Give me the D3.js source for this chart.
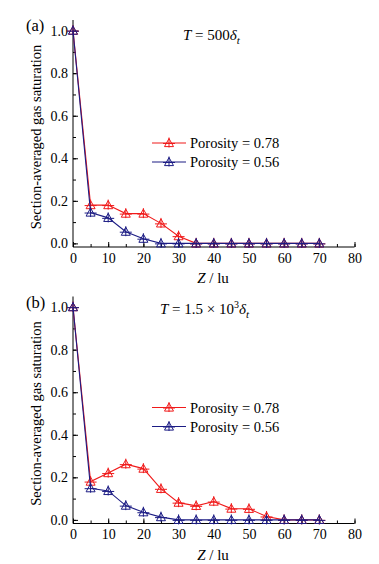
<!DOCTYPE html>
<html>
<head>
<meta charset="utf-8">
<script src="https://cdn.jsdelivr.net/npm/d3@7"></script>
<style>
  body { margin: 0; background: #fff; }
  text { font-family: "Liberation Serif", "DejaVu Serif", serif; fill: #000; }
</style>
</head>
<body>
<script>
const zValues = [0, 5, 10, 15, 20, 25, 30, 35, 40, 45, 50, 55, 60, 65, 70];

// panel (a), T = 500 dt
const satA78 = [1.0, 0.18, 0.18, 0.14, 0.14, 0.094, 0.034, 0.0, 0, 0, 0, 0, 0, 0, 0];
const satA56 = [1.0, 0.145, 0.12, 0.055, 0.022, 0.0, 0, 0, 0, 0, 0, 0, 0, 0, 0];

// panel (b), T = 1.5e3 dt
const satB78 = [1.0, 0.18, 0.22, 0.262, 0.241, 0.146, 0.081, 0.066, 0.086, 0.053, 0.052, 0.016, 0, 0, 0];
const satB56 = [1.0, 0.149, 0.136, 0.067, 0.036, 0.013, 0, 0, 0, 0, 0, 0, 0, 0, 0];

const seriesNames = ["Porosity = 0.78", "Porosity = 0.56"];
const seriesColors = ["#f01a1a", "#1c1c84"];
const xTicks = [0, 10, 20, 30, 40, 50, 60, 70, 80];
const yTicks = [0, 0.2, 0.4, 0.6, 0.8, 1.0];

const w = 379;
const h = 564;

const svg = d3.select("body").append("svg").attr("width", w).attr("height", h);

const x = d3.scaleLinear().domain([0, 80]).range([73, 354.5]);

function marker(g, cx, cy, color) {
  const s = 4.5;
  g.append("path")
    .attr("d", `M${cx},${cy - s}L${cx + s},${cy + s * 0.8}L${cx - s},${cy + s * 0.8}Z`)
    .attr("fill", "none")
    .attr("stroke", color)
    .attr("stroke-width", 1);
  g.append("path")
    .attr("d", `M${cx},${cy - s - 1}V${cy + s}M${cx - 6},${cy + 0.5}H${cx + 6}`)
    .attr("stroke", color)
    .attr("stroke-width", 1);
}

function drawPanel(offset, series, tag, legendY, titleFn) {
  const g = svg.append("g").attr("transform", `translate(0,${offset})`);
  const y = d3.scaleLinear().domain([-0.017, 1.05]).range([247, 20]);

  // axes, ticks pointing inward
  g.append("g")
    .attr("transform", `translate(0,${y(-0.017)})`)
    .call(d3.axisBottom(x).tickValues(d3.range(0, 81, 5)).tickSize(-3).tickFormat(""))
    .call((a) => a.select(".domain").remove());
  g.append("g")
    .attr("transform", `translate(0,${y(-0.017)})`)
    .call(d3.axisBottom(x).tickValues(xTicks).tickSize(-5).tickPadding(6).tickFormat(d3.format("d")))
    .call((a) => a.select(".domain").attr("d", `M${x(0)},0H${x(80)}`))
    .call((a) => a.selectAll("text").attr("font-size", 14).attr("font-family", "Liberation Serif"));

  g.append("g")
    .attr("transform", `translate(${x(0)},0)`)
    .call(d3.axisLeft(y).tickValues(d3.range(0, 1.01, 0.1)).tickSize(-3).tickFormat(""))
    .call((a) => a.select(".domain").remove());
  g.append("g")
    .attr("transform", `translate(${x(0)},0)`)
    .call(d3.axisLeft(y).tickValues(yTicks).tickSize(-5).tickPadding(5).tickFormat(d3.format(".1f")))
    .call((a) => a.select(".domain").attr("d", `M0,${y(-0.017)}V${y(1.05)}`))
    .call((a) => a.selectAll("text").attr("font-size", 14).attr("font-family", "Liberation Serif"));

  g.selectAll(".tick line").attr("stroke", "#000");
  g.selectAll(".domain").attr("stroke", "#000");

  // lines and markers
  const line = d3.line().x((d, i) => x(zValues[i])).y((d) => y(d));
  series.forEach((vals, k) => {
    const sg = g.append("g");
    sg.append("path")
      .datum(vals)
      .attr("d", line)
      .attr("fill", "none")
      .attr("stroke", seriesColors[k])
      .attr("stroke-width", 1.1);
    vals.forEach((v, i) => marker(sg, x(zValues[i]), y(v), seriesColors[k]));
  });

  // legend
  seriesNames.forEach((name, k) => {
    const ly = legendY + k * 19;
    g.append("line")
      .attr("x1", 152).attr("x2", 186).attr("y1", ly).attr("y2", ly)
      .attr("stroke", seriesColors[k]).attr("stroke-width", 1.1);
    marker(g, 169, ly, seriesColors[k]);
    g.append("text").attr("x", 190).attr("y", ly + 5).attr("font-size", 14.5).text(name);
  });

  // labels
  g.append("text").attr("x", 26).attr("y", 31).attr("font-size", 16.5).text(tag);
  titleFn(g.append("text").attr("font-size", 15));

  g.append("text")
    .attr("transform", `translate(41,${y(0.5)}) rotate(-90)`)
    .attr("text-anchor", "middle")
    .attr("font-size", 14.5)
    .text("Section-averaged gas saturation");

  const xl = g.append("text").attr("x", 213).attr("y", 283).attr("text-anchor", "middle").attr("font-size", 15);
  xl.append("tspan").attr("font-style", "italic").text("Z");
  xl.append("tspan").text(" / lu");
}

drawPanel(0, [satA78, satA56], "(a)", 143, (t) => {
  t.attr("x", 183).attr("y", 40);
  t.append("tspan").attr("font-style", "italic").text("T");
  t.append("tspan").text(" = 500");
  t.append("tspan").attr("font-style", "italic").text("δ");
  t.append("tspan").attr("font-style", "italic").attr("font-size", 11).attr("dy", 4).text("t");
});

drawPanel(276.5, [satB78, satB56], "(b)", 131, (t) => {
  t.attr("x", 160).attr("y", 37);
  t.append("tspan").attr("font-style", "italic").text("T");
  t.append("tspan").text(" = 1.5 × 10");
  t.append("tspan").attr("font-size", 10).attr("dy", -6).text("3");
  t.append("tspan").attr("font-style", "italic").attr("dy", 6).text("δ");
  t.append("tspan").attr("font-style", "italic").attr("font-size", 11).attr("dy", 4).text("t");
});
</script>
</body>
</html>
